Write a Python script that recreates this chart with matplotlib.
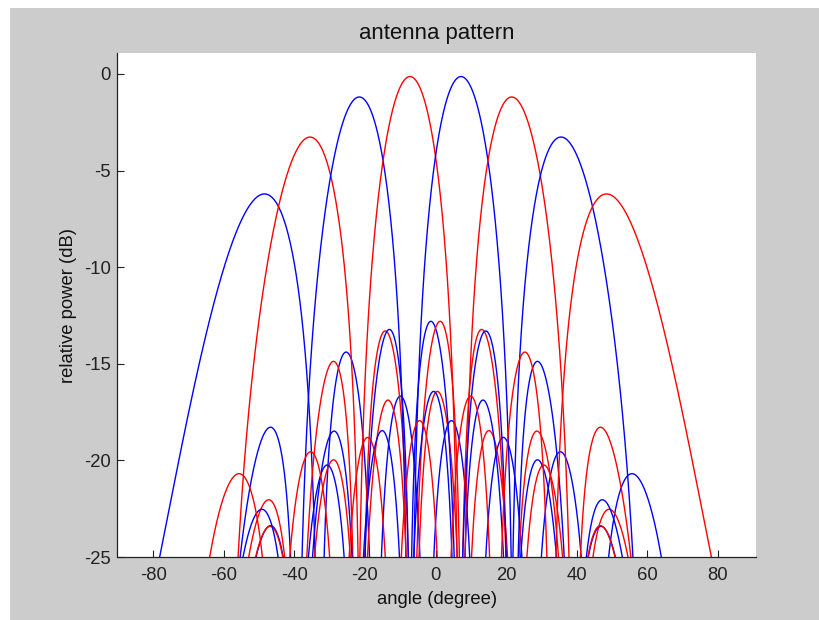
import numpy as np
import matplotlib
matplotlib.use("Agg")
import matplotlib.pyplot as plt
from matplotlib.patches import Rectangle

# Eight-beam linear array: steering directions (deg) and trace colours
beam_angles = [-52.5, -37.5, -22.5, -7.5, 7.5, 22.5, 37.5, 52.5]
beam_colors = ["b", "r", "b", "r", "b", "r", "b", "r"]

n_elements = 8          # elements in the array
spacing = 0.5           # element spacing in wavelengths
element_bw = 70.0       # element 3 dB beamwidth (deg)

x_ticks = [-80, -60, -40, -20, 0, 20, 40, 60, 80]
y_ticks = [-25, -20, -15, -10, -5, 0]

plt.rcParams["font.family"] = ["Liberation Sans", "DejaVu Sans"]
plt.rcParams["font.size"] = 13.3
plt.rcParams["axes.unicode_minus"] = False

theta = np.linspace(-90, 90, 3601)
th = np.deg2rad(theta)
n = np.arange(n_elements)[:, None]
element_db = -12.0 * (theta / element_bw) ** 2

fig = plt.figure(figsize=(8.19, 6.2), dpi=100, facecolor="white")
fig.patches.append(Rectangle((10 / 819, 0), 809 / 819, 612 / 620,
                             transform=fig.transFigure, facecolor="#cccccc",
                             edgecolor="none", zorder=-10))
ax = fig.add_axes([117.5 / 819, 63 / 620, 638.2 / 819, 503.7 / 620])
ax.set_facecolor("white")

for ang, col in zip(beam_angles, beam_colors):
    psi = 2 * np.pi * spacing * (np.sin(th) - np.sin(np.deg2rad(ang)))
    af = np.abs(np.exp(1j * n * psi).sum(axis=0)) / n_elements
    p_db = 20 * np.log10(np.maximum(af, 1e-6)) + element_db
    ax.plot(theta, p_db, color=col, linewidth=1.0)

ax.set_xlim(-90.15, 90.77)
ax.set_ylim(-25, 1.07)
ax.set_xticks(x_ticks)
ax.set_yticks(y_ticks)
ax.tick_params(direction="in", length=4.8, width=0.8, color="#222222",
               labelcolor="#222222")
ax.tick_params(axis="x", pad=7)
ax.tick_params(axis="y", pad=5)
for side in ("top", "right"):
    ax.spines[side].set_visible(False)
for side in ("left", "bottom"):
    ax.spines[side].set_color("#222222")
    ax.spines[side].set_linewidth(0.9)

ax.set_title("antenna pattern", color="#111111", pad=10)
ax.set_xlabel("angle (degree)", color="#111111", labelpad=5)
ax.set_ylabel("relative power (dB)", color="#111111", labelpad=5)

fig.savefig("out.png", dpi=100, facecolor=fig.get_facecolor())
